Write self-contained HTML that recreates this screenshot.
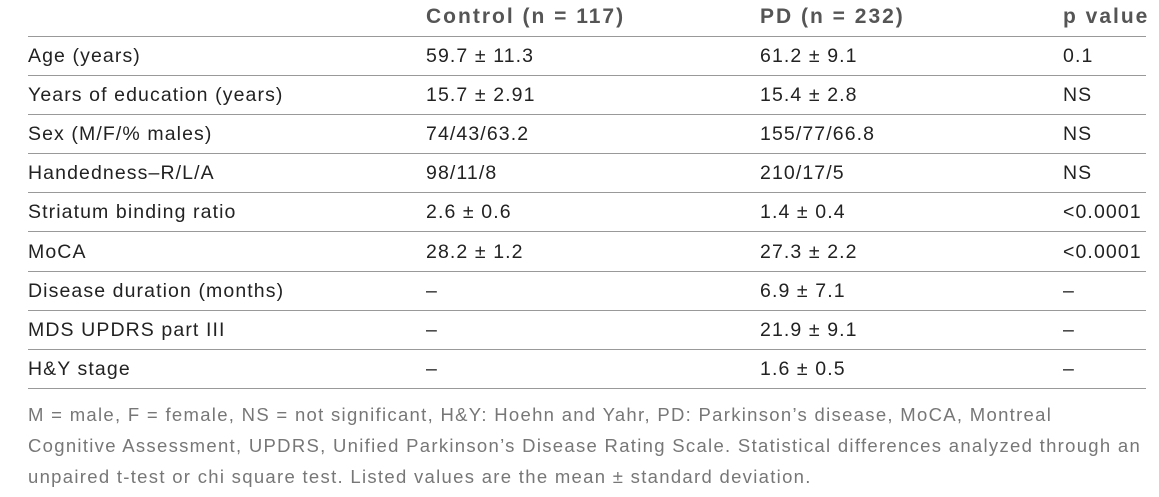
<!DOCTYPE html>
<html><head><meta charset="utf-8"><style>
body{margin:0;width:1159px;height:497px;background:#fff;position:relative;overflow:hidden;font-family:"Liberation Sans",sans-serif;}
.t{position:absolute;font-size:19.5px;color:#222;white-space:nowrap;line-height:20px;letter-spacing:1.1px;}
.h{font-weight:bold;color:#555;font-size:21px;letter-spacing:2px;}
.l{position:absolute;left:28px;width:1118px;height:1px;background:#999;}
.f{position:absolute;left:28px;font-size:18.5px;color:#777;white-space:nowrap;line-height:20px;letter-spacing:1.3px;}
</style></head><body>
<div class="t h" style="left:426px;top:7px">Control (n = 117)</div>
<div class="t h" style="left:760px;top:7px">PD (n = 232)</div>
<div class="t h" style="left:1063px;top:7px">p value</div>
<div class="l" style="top:36px"></div>
<div id="rows"></div>
<div class="f" style="top:405px">M = male, F = female, NS = not significant, H&amp;Y: Hoehn and Yahr, PD: Parkinson’s disease, MoCA, Montreal</div>
<div class="f" style="top:436px">Cognitive Assessment, UPDRS, Unified Parkinson’s Disease Rating Scale. Statistical differences analyzed through an</div>
<div class="f" style="top:467px">unpaired t-test or chi square test. Listed values are the mean ± standard deviation.</div>
<script>
const labels=["Age (years)","Years of education (years)","Sex (M/F/% males)","Handedness–R/L/A","Striatum binding ratio","MoCA","Disease duration (months)","MDS UPDRS part III","H&Y stage"];
const control=["59.7 ± 11.3","15.7 ± 2.91","74/43/63.2","98/11/8","2.6 ± 0.6","28.2 ± 1.2","–","–","–"];
const pd=["61.2 ± 9.1","15.4 ± 2.8","155/77/66.8","210/17/5","1.4 ± 0.4","27.3 ± 2.2","6.9 ± 7.1","21.9 ± 9.1","1.6 ± 0.5"];
const pv=["0.1","NS","NS","NS","<0.0001","<0.0001","–","–","–"];
const root=document.getElementById('rows');
const xs=[28,426,760,1063];
labels.forEach((lab,i)=>{
  const top=46+i*39.1;
  [lab,control[i],pd[i],pv[i]].forEach((txt,j)=>{
    const d=document.createElement('div');
    d.className='t';
    d.style.left=xs[j]+'px';d.style.top=top+'px';
    d.textContent=txt;
    
    
    root.appendChild(d);
  });
  const l=document.createElement('div');
  l.className='l';l.style.top=(75+i*39.1)+'px';
  
  
  root.appendChild(l);
});
</script>
</body></html>
